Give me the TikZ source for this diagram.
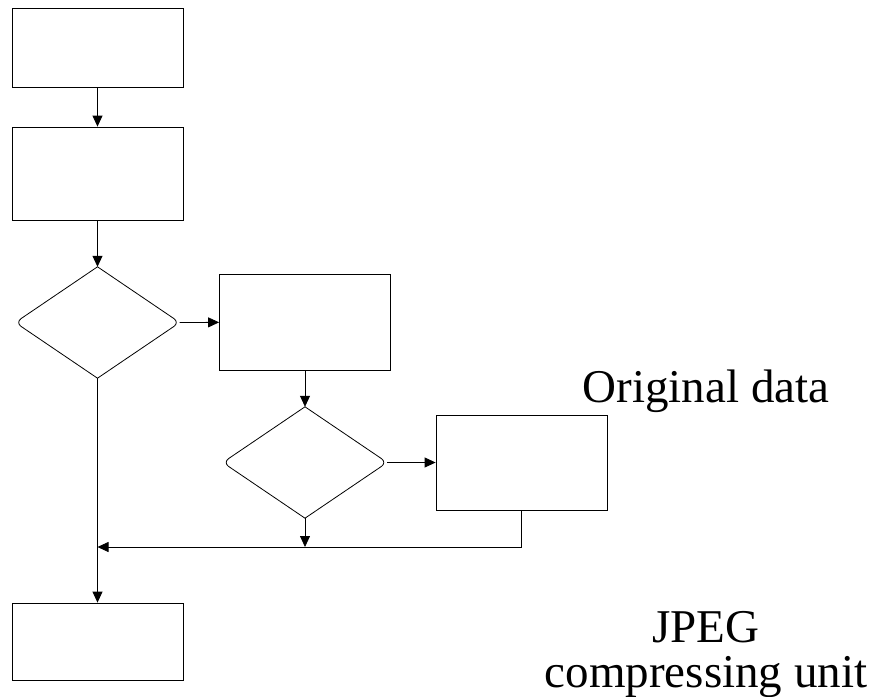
\documentclass[tikz,border=0pt]{standalone}
\usepackage{fontspec}
\setmainfont{Liberation Serif}
\usetikzlibrary{shapes.geometric,arrows.meta}

\tikzset{
  blk/.style={draw,line width=0.8pt,inner sep=0pt,minimum width=171pt},
  dia/.style={diamond,inner sep=0pt,minimum width=164pt,minimum height=111pt},
  flow/.style={line width=0.8pt,-{Triangle[length=11pt,width=10pt]}},
  lbl/.style={anchor=base,inner sep=0pt,font=\fontsize{47}{47}\selectfont}
}

\begin{document}
\begin{tikzpicture}[x=1pt,y=-1pt]
\useasboundingbox (0,0) rectangle (878,696);
\node[blk,minimum height=79pt] (box1) at (97.5,47.5) {};
\node[blk,minimum height=93pt] (box2) at (97.5,173.5) {};
\node[dia] (d1) at (97.5,322.5) {};
\node[blk,minimum height=96pt] (box3) at (305,322) {};
\node[dia] (d2) at (305,462.5) {};
\node[blk,minimum height=95pt] (box4) at (521.5,462.5) {};
\node[blk,minimum height=77pt] (box5) at (97.5,641.5) {};
\coordinate (join) at (97.5,547);

% diamonds, rounded only at the sides
\foreach \d in {d1,d2}{
  \draw[line width=0.8pt,rounded corners=7pt] (\d.north) -- (\d.west) -- (\d.south);
  \draw[line width=0.8pt,rounded corners=7pt] (\d.north) -- (\d.east) -- (\d.south);
}

\draw[flow] (box1) -- (box2);
\draw[flow] (box2) -- (d1.north);
\draw[flow] (d1.east) -- (box3);
\draw[flow] (box3) -- (d2.north);
\draw[flow] (d2.east) -- (box4);
\draw[flow] (d2.south) -- (d2.south |- join);
\draw[flow] (box4.south) |- (join);
\draw[flow] (d1.south) -- (box5);

\node[lbl] (orig) at (706,402) {Original data};
\node[lbl] (jpeg) at (706,642) {JPEG};
\node[lbl] (unit) at (706,687) {compressing unit};
\end{tikzpicture}
\end{document}
